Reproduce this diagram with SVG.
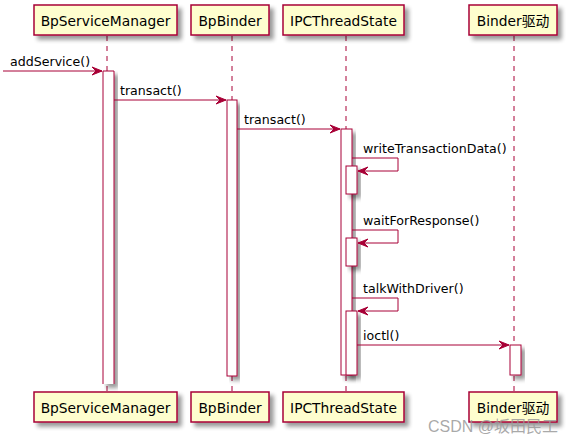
<svg xmlns="http://www.w3.org/2000/svg" width="580" height="443" viewBox="0 0 580 443">
<defs>
<style>
.box{fill:#FEFECE;stroke:#A80036;stroke-width:1.5;filter:url(#sh)}
.bar{fill:#FFFFFF;stroke:#A80036;stroke-width:1;filter:url(#sh)}
.life{stroke:#A80036;stroke-width:1;stroke-dasharray:5,5;fill:none}
.msg{stroke:#A80036;stroke-width:1;fill:none}
.t{font-family:"DejaVu Sans","Noto Sans CJK SC",sans-serif;font-size:13.8px;fill:#000}
.ml{font-family:"DejaVu Sans",sans-serif;font-size:12.6px;fill:#000}
</style>
<filter id="sh" x="-20%" y="-20%" width="150%" height="150%">
<feGaussianBlur in="SourceAlpha" stdDeviation="2"/>
<feOffset dx="4" dy="4" result="o"/>
<feComponentTransfer><feFuncA type="linear" slope="0.4"/></feComponentTransfer>
<feMerge><feMergeNode/><feMergeNode in="SourceGraphic"/></feMerge>
</filter>
<marker id="ah" markerWidth="12" markerHeight="10" refX="11" refY="5" orient="auto" markerUnits="userSpaceOnUse">
<polygon points="1,1 11,5 1,9 5,5" fill="#A80036" stroke="#A80036" stroke-width="1"/>
</marker>
</defs>
<rect width="580" height="443" fill="#FFFFFF"/>

<g id="lifelines">
<line class="life" x1="107" y1="36" x2="107" y2="392"/>
<line class="life" x1="232" y1="36" x2="232" y2="392"/>
<line class="life" x1="346" y1="36" x2="346" y2="392"/>
<line class="life" x1="514" y1="36" x2="514" y2="392"/>
</g>

<g id="activations">
<path class="bar" d="M103,384 L103,71 L114,71 L114,384"/>
<rect class="bar" x="227" y="100" width="10" height="276"/>
<rect class="bar" x="341" y="129" width="11" height="246"/>
<rect class="bar" x="346" y="166" width="11" height="28"/>
<rect class="bar" x="346" y="238" width="11" height="28"/>
<rect class="bar" x="346" y="311" width="11" height="64"/>
<rect class="bar" x="510" y="345" width="11" height="30"/>
</g>

<g id="connectors">
<line class="msg" x1="3" y1="71" x2="102" y2="71" marker-end="url(#ah)"/>
<text class="ml" x="10" y="66">addService()</text>
<line class="msg" x1="114" y1="100" x2="226" y2="100" marker-end="url(#ah)"/>
<text class="ml" x="120" y="95">transact()</text>
<line class="msg" x1="237" y1="129" x2="340" y2="129" marker-end="url(#ah)"/>
<text class="ml" x="244" y="124">transact()</text>
<polyline class="msg" points="352,158 398,158 398,171 358,171" marker-end="url(#ah)"/>
<text class="ml" x="363" y="153">writeTransactionData()</text>
<polyline class="msg" points="352,230 398,230 398,243 358,243" marker-end="url(#ah)"/>
<text class="ml" x="363" y="225">waitForResponse()</text>
<polyline class="msg" points="352,298 398,298 398,311 358,311" marker-end="url(#ah)"/>
<text class="ml" x="363" y="293">talkWithDriver()</text>
<line class="msg" x1="357" y1="345" x2="509" y2="345" marker-end="url(#ah)"/>
<text class="ml" x="363" y="340">ioctl()</text>
</g>

<g id="BpServiceManager">
<rect class="box" x="34" y="5" width="143" height="30"/>
<text class="t" x="105.5" y="26" text-anchor="middle">BpServiceManager</text>
<rect class="box" x="34" y="392" width="143" height="30"/>
<text class="t" x="105.5" y="413" text-anchor="middle">BpServiceManager</text>
</g>
<g id="BpBinder">
<rect class="box" x="191" y="5" width="78" height="30"/>
<text class="t" x="230" y="26" text-anchor="middle">BpBinder</text>
<rect class="box" x="191" y="392" width="78" height="30"/>
<text class="t" x="230" y="413" text-anchor="middle">BpBinder</text>
</g>
<g id="IPCThreadState">
<rect class="box" x="283" y="5" width="121" height="30"/>
<text class="t" x="343.5" y="26" text-anchor="middle">IPCThreadState</text>
<rect class="box" x="283" y="392" width="121" height="30"/>
<text class="t" x="343.5" y="413" text-anchor="middle">IPCThreadState</text>
</g>
<g id="BinderDriver">
<rect class="box" x="469" y="5" width="88" height="30"/>
<text class="t" x="513" y="26" text-anchor="middle">Binder驱动</text>
<rect class="box" x="469" y="392" width="88" height="30"/>
<text class="t" x="513" y="413" text-anchor="middle">Binder驱动</text>
</g>

<text x="428" y="432" font-family="Liberation Sans,'Noto Sans CJK SC',sans-serif" font-size="16" fill="#9a9a9a" fill-opacity="0.85">CSDN @坂田民工</text>
</svg>
